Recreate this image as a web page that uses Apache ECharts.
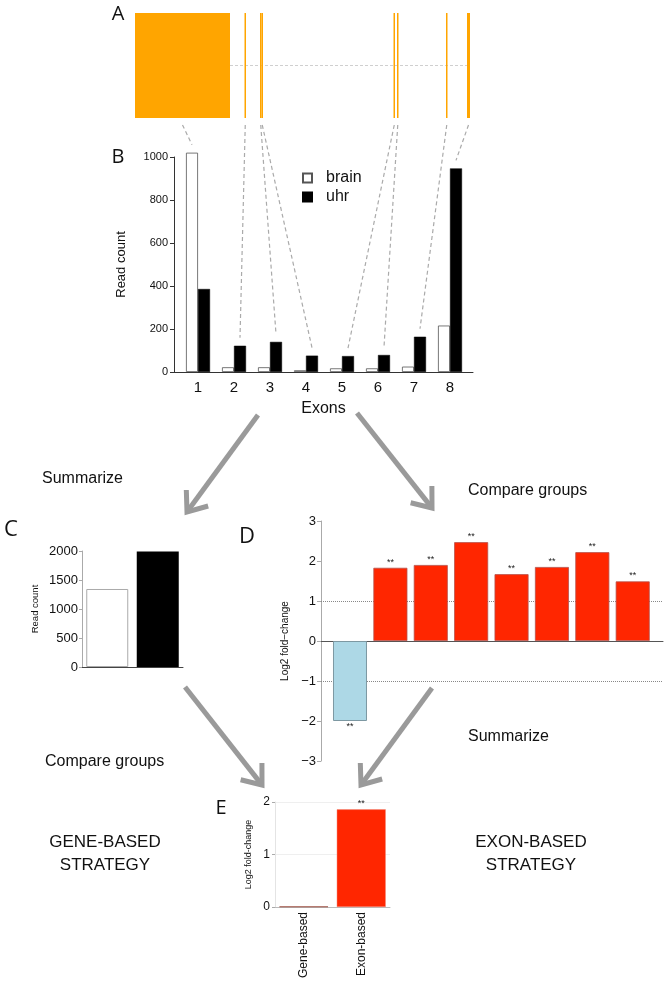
<!DOCTYPE html>
<html>
<head>
<meta charset="utf-8">
<script src="https://cdn.jsdelivr.net/npm/echarts@6/dist/echarts.min.js"></script>
<style>
html,body{margin:0;padding:0;background:#fff;}
#main{width:667px;height:987px;}
</style>
</head>
<body>
<div id="main"></div>
<script>
// ---------- data ----------
const exonNames = ['1', '2', '3', '4', '5', '6', '7', '8'];
const exonStarts = [0, 10950, 12500, 12650, 25850, 26200, 31100, 33200];   // relative bp
const exonEnds   = [9500, 11100, 12650, 12800, 26000, 26350, 31250, 33500];
const brainCounts = [1020, 22, 22, 8, 17, 17, 25, 216];
const uhrCounts   = [386, 122, 140, 76, 74, 79, 164, 947];
const groupNames = ['brain', 'uhr'];
const geneTotals = [1345, 1990];
const exonLog2FC = [-2.0, 1.83, 1.90, 2.47, 1.67, 1.85, 2.22, 1.49];
const exonSig = ['**', '**', '**', '**', '**', '**', '**', '**'];
const foldThresholds = [1, -1];
const strategyNames = ['Gene-based', 'Exon-based'];
const strategyLog2FC = [0.01, 1.86];
const strategySig = ['', '**'];

// ---------- styling ----------
const FONT = '"Liberation Sans", Arial, sans-serif';
const LETTER_FONT = '"Open Sans", "Liberation Sans", sans-serif';
const ORANGE = '#FFA500';
const RED = '#FF2600';
const BLUE = '#ADD8E6';
const ARROW = '#9a9a9a';

const chart = echarts.init(document.getElementById('main'), null, {renderer: 'canvas'});

function baseAxisLine(color) { return {show: true, onZero: false, lineStyle: {color: color || '#222', width: 1}}; }
const plain = v => String(v);

const option = {
  animation: false,
  backgroundColor: '#fff',
  textStyle: {fontFamily: FONT},
  legend: {
    data: groupNames,
    left: 297, top: 165, orient: 'vertical',
    icon: 'rect', itemWidth: 9, itemHeight: 9, itemGap: 3,
    textStyle: {fontSize: 16, color: '#111', fontFamily: FONT, padding: [0, 0, 0, 9]}
  },
  grid: [
    {left: 135, top: 13, width: 335, height: 105},   // A gene model
    {left: 174, top: 157, width: 299, height: 215},  // B
    {left: 82, top: 551, width: 101, height: 116},   // C
    {left: 321, top: 521, width: 342, height: 240},  // D
    {left: 275, top: 802, width: 115, height: 105}   // E
  ],
  xAxis: [
    {gridIndex: 0, type: 'value', min: 0, max: 33500, show: false},
    {gridIndex: 1, type: 'value', min: 0.3333, max: 8.639,
      axisLine: {show: true, onZero: true, lineStyle: {color: '#333'}},
      axisTick: {show: false}, splitLine: {show: false},
      axisLabel: {customValues: exonNames.map((n, i) => i + 1),
        formatter: v => exonNames[Math.round(v) - 1], fontSize: 15, color: '#111', margin: 8, fontFamily: FONT},
      name: 'Exons', nameLocation: 'middle', nameGap: 29,
      nameTextStyle: {fontSize: 16, color: '#111', fontFamily: FONT}},
    {gridIndex: 2, type: 'category', data: groupNames,
      axisLine: {show: true, lineStyle: {color: '#444'}}, axisTick: {show: false}, axisLabel: {show: false}},
    {gridIndex: 3, type: 'value', min: 0.282, max: 8.75,
      axisLine: {show: true, onZero: true, lineStyle: {color: '#555'}},
      axisTick: {show: false}, axisLabel: {show: false}, splitLine: {show: false}},
    {gridIndex: 4, type: 'category', data: strategyNames,
      axisLine: {show: true, lineStyle: {color: '#bbb'}}, axisTick: {show: false},
      axisLabel: {rotate: 90, fontSize: 12, color: '#111', margin: 5, fontFamily: FONT}}
  ],
  yAxis: [
    {gridIndex: 0, type: 'value', min: 0, max: 1, show: false},
    {gridIndex: 1, type: 'value', min: 0, max: 1000, interval: 200,
      axisLine: baseAxisLine('#333'), axisTick: {show: true, length: 4, lineStyle: {color: '#333'}},
      splitLine: {show: false},
      axisLabel: {fontSize: 11, color: '#111', margin: 6, fontFamily: FONT, formatter: plain},
      name: 'Read count', nameLocation: 'middle', nameGap: 46, nameRotate: 90,
      nameTextStyle: {fontSize: 13, color: '#111', fontFamily: FONT}},
    {gridIndex: 2, type: 'value', min: 0, max: 2000, interval: 500,
      axisLine: baseAxisLine('#aaa'), axisTick: {show: true, length: 3, lineStyle: {color: '#aaa'}},
      splitLine: {show: false},
      axisLabel: {fontSize: 13, color: '#111', margin: 4, fontFamily: FONT, formatter: plain},
      name: 'Read count', nameLocation: 'middle', nameGap: 42, nameRotate: 90,
      nameTextStyle: {fontSize: 9.5, color: '#111', fontFamily: FONT}},
    {gridIndex: 3, type: 'value', min: -3, max: 3, interval: 1,
      axisLine: baseAxisLine('#aaa'), axisTick: {show: true, length: 4, lineStyle: {color: '#aaa'}},
      splitLine: {show: false},
      axisLabel: {fontSize: 13, color: '#111', margin: 5, fontFamily: FONT,
        formatter: v => String(v).replace('-', '\u2212')},
      name: 'Log2 fold\u2212change', nameLocation: 'middle', nameGap: 28, nameRotate: 90,
      nameTextStyle: {fontSize: 10, color: '#111', fontFamily: FONT}},
    {gridIndex: 4, type: 'value', min: 0, max: 2, interval: 1,
      axisLine: baseAxisLine('#e4e4e4'), axisTick: {show: true, length: 3, lineStyle: {color: '#aaa'}},
      splitLine: {show: true, lineStyle: {color: '#efefef', width: 1}},
      axisLabel: {fontSize: 12, color: '#111', margin: 5, fontFamily: FONT},
      name: 'Log2 fold-change', nameLocation: 'middle', nameGap: 22, nameRotate: 90,
      nameTextStyle: {fontSize: 9, color: '#111', fontFamily: FONT}}
  ],
  series: [
    // A: intron backbone
    {type: 'line', xAxisIndex: 0, yAxisIndex: 0, silent: true, symbol: 'none', z: 1,
      data: [[exonEnds[0], 0.5], [exonStarts[exonStarts.length - 1], 0.5]],
      lineStyle: {color: '#cfcfcf', width: 1, type: [3, 2]}},
    // A: exons
    {type: 'custom', xAxisIndex: 0, yAxisIndex: 0, z: 2, silent: true,
      encode: {x: [0, 1], y: [2, 3]},
      data: exonStarts.map((s, i) => [s, exonEnds[i], 0, 1]),
      renderItem: function (params, api) {
        const p0 = api.coord([api.value(0), api.value(2)]);
        const p1 = api.coord([api.value(1), api.value(3)]);
        return {type: 'rect', shape: {x: p0[0], y: p1[1], width: Math.max(p1[0] - p0[0], 1.2), height: p0[1] - p1[1]},
          style: {fill: ORANGE}};
      }},
    // B
    {type: 'bar', name: 'brain', xAxisIndex: 1, yAxisIndex: 1, clip: false,
      data: brainCounts.map((v, i) => [i + 1, v]), barWidth: 12, barGap: '0%',
      itemStyle: {color: '#fff', borderColor: '#555', borderWidth: 0.8}},
    {type: 'bar', name: 'uhr', xAxisIndex: 1, yAxisIndex: 1, clip: false,
      data: uhrCounts.map((v, i) => [i + 1, v]), barWidth: 12, barGap: '0%',
      itemStyle: {color: '#000', borderColor: '#000', borderWidth: 0.5}},
    // C
    {type: 'bar', xAxisIndex: 2, yAxisIndex: 2, barWidth: 42,
      data: geneTotals.map((v, i) => ({value: v,
        itemStyle: i === 0 ? {color: '#fff', borderColor: '#aaa', borderWidth: 1} : {color: '#000'}}))},
    // D: dotted thresholds behind the bars
    {type: 'line', xAxisIndex: 3, yAxisIndex: 3, data: [], z: 1, silent: true,
      markLine: {silent: true, symbol: 'none', label: {show: false}, z: 1,
        lineStyle: {type: 'dotted', color: '#888', width: 1},
        data: foldThresholds.map(t => ({yAxis: t}))}},
    // D bars
    {type: 'bar', xAxisIndex: 3, yAxisIndex: 3, barWidth: 34, z: 3,
      data: exonLog2FC.map((v, i) => ({value: [i + 1, v],
        itemStyle: v < 0 ? {color: BLUE, borderColor: '#7d98a2', borderWidth: 1} : {color: RED, borderColor: '#b5504a', borderWidth: 0.8},
        label: {position: v < 0 ? 'bottom' : 'top'}})),
      label: {show: true, formatter: p => exonSig[p.dataIndex], fontSize: 9, color: '#222', distance: 1, fontFamily: FONT}},
    // E
    {type: 'bar', xAxisIndex: 4, yAxisIndex: 4, barWidth: 49,
      data: strategyLog2FC.map((v, i) => ({value: v,
        itemStyle: i === 0 ? {color: '#8B2a1a', borderColor: '#8B2a1a', borderWidth: 0.5} : {color: RED, borderColor: '#f08a7a', borderWidth: 0.5}})),
      label: {show: true, position: 'top', formatter: p => strategySig[p.dataIndex], fontSize: 9, color: '#222', distance: 1, fontFamily: FONT}}
  ]
};

chart.setOption(option);

// ---------- decorations (arrows, labels, connectors) ----------
function arrow(x1, y1, x2, y2) {
  const th = Math.atan2(y2 - y1, x2 - x1);
  const L = 22, phi = 38 * Math.PI / 180;
  const a1 = [x2 - L * Math.cos(th - phi), y2 - L * Math.sin(th - phi)];
  const a2 = [x2 - L * Math.cos(th + phi), y2 - L * Math.sin(th + phi)];
  const back = 3;
  return [
    {type: 'line', shape: {x1: x1, y1: y1, x2: x2 - back * Math.cos(th), y2: y2 - back * Math.sin(th)},
      style: {stroke: ARROW, lineWidth: 5}},
    {type: 'polyline', shape: {points: [a1, [x2, y2], a2]},
      style: {stroke: ARROW, lineWidth: 5, fill: null, lineJoin: 'miter'}}
  ];
}
function txt(text, x, y, size, opts) {
  return {type: 'text', style: Object.assign({text: text, x: x, y: y, fill: '#111',
    font: size + 'px ' + FONT, textAlign: 'left', textVerticalAlign: 'middle'}, opts || {})};
}

const g = [];
// panel letters
g.push(txt('A', 118, 14, 20, {font: '20px ' + LETTER_FONT, textAlign: 'center'}));
g.push(txt('B', 118, 157, 20, {font: '20px ' + LETTER_FONT, textAlign: 'center'}));
g.push(txt('C', 11, 530, 22, {font: '22px ' + LETTER_FONT, textAlign: 'center'}));
g.push(txt('D', 247, 537, 22, {font: '22px ' + LETTER_FONT, textAlign: 'center'}));
g.push(txt('E', 221, 808, 20, {font: '20px ' + LETTER_FONT, textAlign: 'center'}));
// step labels
g.push(txt('Summarize', 42, 479, 16));
g.push(txt('Compare groups', 468, 491, 16));
g.push(txt('Compare groups', 45, 762, 16));
g.push(txt('Summarize', 468, 737, 16));
g.push(txt('GENE-BASED', 105, 842, 17, {textAlign: 'center'}));
g.push(txt('STRATEGY', 105, 865, 17, {textAlign: 'center'}));
g.push(txt('EXON-BASED', 531, 842, 17, {textAlign: 'center'}));
g.push(txt('STRATEGY', 531, 865, 17, {textAlign: 'center'}));
// arrows
g.push(...arrow(258, 415, 187, 512));
g.push(...arrow(357, 413, 432, 508));
g.push(...arrow(185, 687, 262, 785));
g.push(...arrow(432, 688, 361, 785));
// connectors gene model -> exon bars, positions from the library's scales
exonStarts.forEach((s, i) => {
  const p0 = chart.convertToPixel({xAxisIndex: 0, yAxisIndex: 0}, [(s + exonEnds[i]) / 2, 0]);
  const brainTaller = brainCounts[i] > uhrCounts[i];
  const top = Math.max(brainCounts[i], uhrCounts[i]);
  const p1 = chart.convertToPixel({xAxisIndex: 1, yAxisIndex: 1}, [i + 1, top]);
  const xEnd = p1[0] + (brainTaller ? -6 : 6);
  g.push({type: 'line', silent: true,
    shape: {x1: p0[0], y1: p0[1] + 7, x2: xEnd, y2: p1[1] - 8},
    style: {stroke: '#aaa', lineWidth: 1.2, lineDash: [4, 3]}});
});

chart.setOption({graphic: {elements: g}});
</script>
</body>
</html>
